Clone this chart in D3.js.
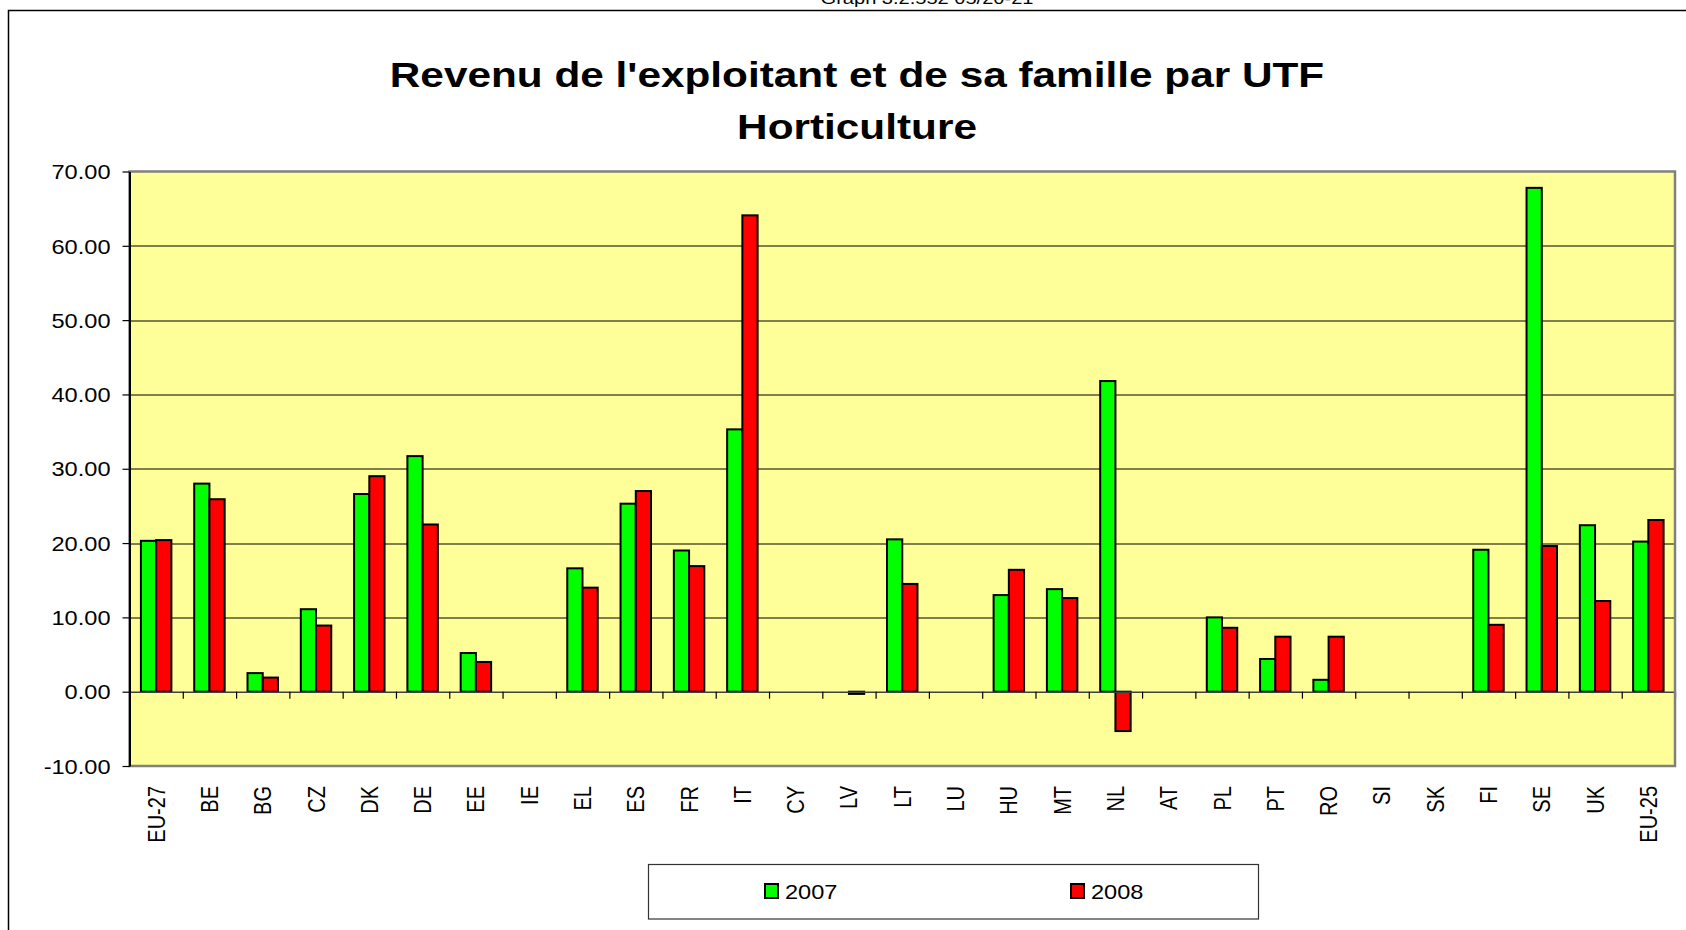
<!DOCTYPE html>
<html>
<head>
<meta charset="utf-8">
<script src="https://cdn.jsdelivr.net/npm/d3@7/dist/d3.min.js"></script>
<style>
    body { margin: 0; background: #fff; }
    text { font-family: "Liberation Sans", Arial, sans-serif; fill: #000; }
</style>
</head>
<body>
<div id="chart"></div>
<script>
// values (null = no bar)
var categories = ["EU-27", "BE", "BG", "CZ", "DK", "DE", "EE", "IE", "EL", "ES", "FR", "IT", "CY", "LV",
    "LT", "LU", "HU", "MT", "NL", "AT", "PL", "PT", "RO", "SI", "SK", "FI", "SE", "UK", "EU-25"];
var values2007 = [20.3, 28.0, 2.5, 11.1, 26.6, 31.7, 5.2, null, 16.6, 25.3, 19.0, 35.3, null, null,
    20.5, null, 13.0, 13.8, 41.8, null, 10.0, 4.4, 1.6, null, null, 19.1, 67.8, 22.4, 20.2];
var values2008 = [20.4, 25.9, 1.9, 8.9, 29.0, 22.5, 4.0, null, 14.0, 27.0, 16.9, 64.1, null, -0.3,
    14.5, null, 16.4, 12.6, -5.3, null, 8.6, 7.4, 7.4, null, null, 9.0, 19.6, 12.2, 23.1];
var seriesNames = ["2007", "2008"];
var seriesColors = ["#00FF00", "#FF0000"];
var yTicks = [-10, 0, 10, 20, 30, 40, 50, 60, 70];

var titleLines = ["Revenu de l'exploitant et de sa famille par UTF", "Horticulture"];
var headerText = "Graph 3.2.552 05/20-21";

// the original image is stretched sideways, so letters are too
var sx = 1.18;

var margin = {top: 171.5, left: 129.5},
    width = 1675 - margin.left,
    height = 766 - margin.top;

var svg = d3.select("#chart").append("svg")
    .attr("width", 1686)
    .attr("height", 930);

// outer chart border (right and bottom run off the picture)
svg.append("rect")
    .attr("x", 8.5).attr("y", 10.5)
    .attr("width", 1800).attr("height", 1000)
    .attr("fill", "none")
    .attr("stroke", "#000")
    .attr("stroke-width", 1.5);

// page header, only its lower half shows in the original
svg.append("text")
    .attr("transform", "translate(927,4) scale(" + sx + ",1)")
    .style("text-anchor", "middle")
    .style("font-size", "17px")
    .text(headerText);

svg.selectAll(".title")
    .data(titleLines)
    .enter().append("text")
    .attr("class", "title")
    .attr("transform", function (d, i) {
        return "translate(857," + (87 + i * 52) + ") scale(1.21,1)";
    })
    .style("text-anchor", "middle")
    .style("font-size", "35px")
    .style("font-weight", "bold")
    .text(function (d) { return d; });

var g = svg.append("g")
    .attr("transform", "translate(" + margin.left + "," + margin.top + ")");

var x0 = d3.scaleBand()
    .domain(categories)
    .range([0, width]);

var barW = x0.bandwidth() / 3.5;
var groupOff = (x0.bandwidth() - 2 * barW) / 2;

var x1 = d3.scaleBand()
    .domain(seriesNames)
    .range([groupOff, groupOff + 2 * barW]);

// linear copy of the category axis, for ticks between the categories
var xEdges = d3.scaleLinear()
    .domain([0, categories.length])
    .range([0, width]);

var y = d3.scaleLinear()
    .domain([-10, 70])
    .range([height, 0]);

var color = d3.scaleOrdinal()
    .domain(seriesNames)
    .range(seriesColors);

// plain hyphen for negatives, like the original
var fmt = function (d) { return d3.format(".2f")(d).replace("\u2212", "-"); };

// plot background
g.append("rect")
    .attr("width", width)
    .attr("height", height)
    .attr("fill", "#FFFF99");

// gridlines
g.selectAll(".grid")
    .data(yTicks.filter(function (d) { return d > 0 && d < 70; }))
    .enter().append("line")
    .attr("class", "grid")
    .attr("x1", 0).attr("x2", width)
    .attr("y1", function (d) { return Math.round(y(d)) + 0.5; })
    .attr("y2", function (d) { return Math.round(y(d)) + 0.5; })
    .attr("stroke", "#000")
    .attr("stroke-width", 1);

var dataset = categories.map(function (c, i) {
    return {label: c, valores: [
        {name: "2007", value: values2007[i]},
        {name: "2008", value: values2008[i]}
    ]};
});

var bar = g.selectAll(".cat")
    .data(dataset)
    .enter().append("g")
    .attr("class", "cat")
    .attr("transform", function (d) {
        return "translate(" + x0(d.label) + ",0)";
    });

bar.selectAll("rect")
    .data(function (d) {
        return d.valores.filter(function (v) { return v.value !== null; });
    })
    .enter().append("rect")
    .attr("x", function (d) { return x1(d.name); })
    .attr("width", x1.bandwidth())
    .attr("y", function (d) { return y(Math.max(0, d.value)); })
    .attr("height", function (d) { return Math.abs(y(d.value) - y(0)); })
    .attr("fill", function (d) { return color(d.name); })
    .attr("stroke", "#000")
    .attr("stroke-width", 2);

// category axis on the zero line
var xAxis = g.append("g")
    .attr("transform", "translate(0," + y(0) + ")")
    .call(d3.axisBottom(xEdges)
        .tickValues(d3.range(1, categories.length + 1))
        .tickFormat("")
        .tickSizeInner(7)
        .tickSizeOuter(0));
xAxis.select(".domain").attr("stroke", "#404040").attr("stroke-width", 1.5);
xAxis.selectAll(".tick line").attr("stroke", "#000").attr("stroke-width", 1.2);

// plot border
g.append("rect")
    .attr("width", width)
    .attr("height", height)
    .attr("fill", "none")
    .attr("stroke", "#808080")
    .attr("stroke-width", 2.5);

var yAxis = g.append("g")
    .call(d3.axisLeft(y)
        .tickValues(yTicks)
        .tickFormat(fmt)
        .tickSizeInner(7)
        .tickSizeOuter(0));
yAxis.select(".domain").attr("stroke", "#000").attr("stroke-width", 2);
yAxis.selectAll(".tick line").attr("stroke", "#000").attr("stroke-width", 1.2);
yAxis.selectAll(".tick text")
    .attr("x", null)
    .attr("dy", "0.36em")
    .attr("transform", "translate(-19,0) scale(" + sx + ",1)")
    .style("font-size", "20px")
    .style("font-family", "Liberation Sans, Arial, sans-serif")
    .style("text-anchor", "end");

// category labels along the bottom
g.selectAll(".xlabel")
    .data(categories)
    .enter().append("text")
    .attr("class", "xlabel")
    .attr("transform", function (d) {
        return "translate(" + (x0(d) + x0.bandwidth() / 2) + "," + (height + 20) + ") scale(" + sx + ",1) rotate(-90)";
    })
    .attr("dy", "0.36em")
    .style("text-anchor", "end")
    .style("font-size", "20px")
    .text(function (d) { return d; });

// legend
var legend = svg.append("g");
legend.append("rect")
    .attr("x", 648.5).attr("y", 864.5)
    .attr("width", 610).attr("height", 54.5)
    .attr("fill", "#fff")
    .attr("stroke", "#333")
    .attr("stroke-width", 1.2);

var legendX = [765, 1071];
var item = legend.selectAll(".legend")
    .data(seriesNames)
    .enter().append("g")
    .attr("class", "legend")
    .attr("transform", function (d, i) {
        return "translate(" + legendX[i] + ",0)";
    });

item.append("rect")
    .attr("x", 0).attr("y", 884)
    .attr("width", 13).attr("height", 14)
    .attr("fill", color)
    .attr("stroke", "#000")
    .attr("stroke-width", 2);

item.append("text")
    .attr("transform", "translate(20,899) scale(" + sx + ",1)")
    .style("font-size", "20px")
    .text(function (d) { return d; });
</script>
</body>
</html>
